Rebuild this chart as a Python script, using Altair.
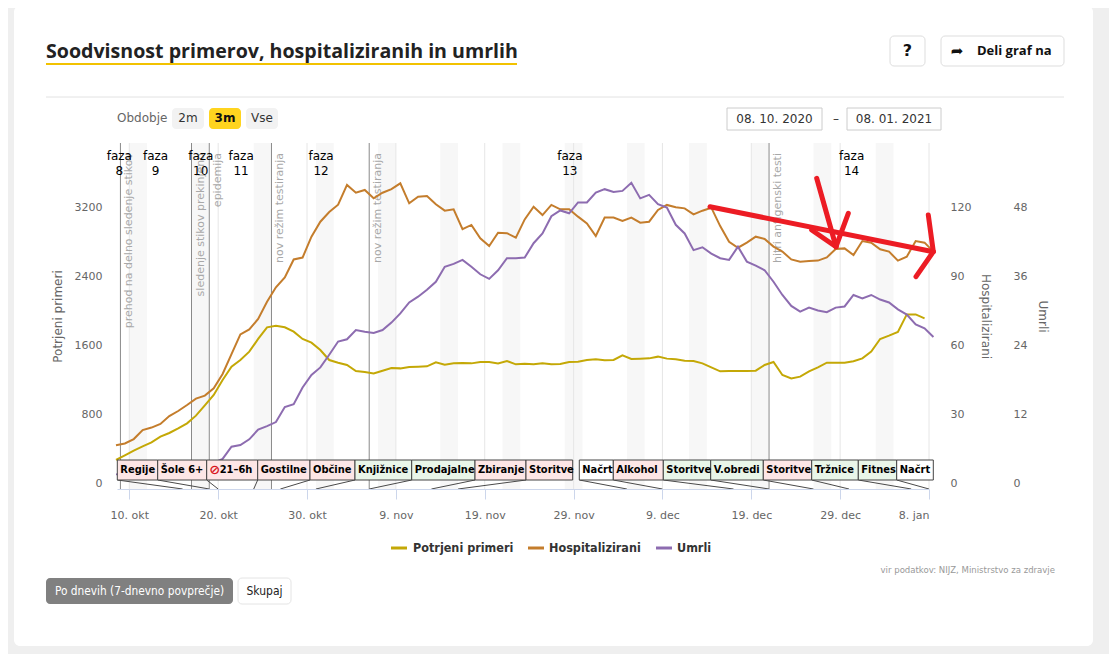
import altair as alt
import pandas as pd

# ---------------- data ----------------
first_day = "2020-10-08 12:00"

potrjeni_primeri = [267, 321, 375, 425, 471, 537, 580, 634, 692, 781,
                    901, 1020, 1194, 1349, 1426, 1523, 1670, 1805, 1824, 1805,
                    1755, 1670, 1627, 1542, 1426, 1395, 1368, 1299, 1287, 1271,
                    1302, 1333, 1329, 1345, 1349, 1353, 1399, 1372, 1387, 1391,
                    1387, 1403, 1403, 1387, 1415, 1376, 1383,
                    1376, 1387, 1376, 1380, 1403, 1407, 1426, 1434, 1422, 1426,
                    1480, 1438, 1442, 1445, 1465, 1442, 1434, 1418, 1415, 1387,
                    1341, 1295, 1299, 1299, 1299, 1302, 1368, 1403, 1252, 1213,
                    1233, 1295, 1341, 1395, 1395, 1395, 1411, 1445, 1523, 1670,
                    1708, 1751, 1955, 1955, 1909]

hospitalizirani = [16.4, 17.2, 19.1, 23.0, 24.1, 25.7, 29.1, 31.3, 33.9, 36.7,
                   38.0, 41.2, 47.4, 56.0, 64.6, 66.8, 71.3, 78.8, 85.1, 89.4,
                   97.2, 98.0, 107.1, 113.6, 117.8, 121.0, 129.6, 126.2, 127.4, 123.8,
                   126.2, 127.8, 130.3, 121.6, 124.5, 124.8, 121.2, 118.4, 119.0, 110.4,
                   112.2, 106.4, 103.0, 108.8, 108.6, 106.7, 114.6,
                   120.1, 116.5, 120.9, 119.0, 119.0, 115.8, 112.9, 107.4, 115.4, 115.4,
                   113.9, 115.4, 113.2, 113.6, 118.7, 120.9, 119.9, 119.4, 116.8, 118.4,
                   119.7, 111.7, 104.9, 102.3, 104.5, 107.1, 106.1, 102.8, 100.6, 97.2,
                   96.2, 96.5, 96.7, 98.1, 101.7, 102.0, 99.1, 105.2, 104.5, 101.6,
                   100.6, 96.7, 98.4, 105.2, 104.5, 100.6]

umrli = [1.5, 1.6, 1.8, 2.0, 2.1, 2.3, 2.4, 2.6, 2.8, 3.0, 3.2, 3.5,
         4.2, 6.3, 6.6, 7.6, 9.3, 9.9, 10.6, 13.2, 13.7, 16.6,
         18.8, 20.1, 22.3, 24.6, 25.0, 26.6, 26.3, 26.1, 26.6, 27.9,
         29.5, 31.4, 32.4, 33.6, 35.0, 37.6, 38.1, 38.8, 37.6, 36.3,
         35.5, 37.0, 39.1, 39.1, 39.2,
         41.7, 43.4, 46.4, 47.4, 46.9, 48.8, 48.8, 50.5, 51.1, 50.6,
         50.8, 52.2, 49.5, 50.1, 48.5, 47.9, 44.9, 43.4, 40.5, 41.0,
         39.9, 39.1, 38.8, 41.1, 38.5, 37.8, 37.0, 35.0, 32.7, 30.8,
         29.8, 30.5, 30.0, 29.7, 30.5, 30.7, 32.7, 32.1, 32.7, 31.9,
         31.4, 30.2, 29.3, 27.6, 26.9, 25.4]

tick_dates = ["2020-10-10", "2020-10-20", "2020-10-30", "2020-11-09", "2020-11-19",
              "2020-11-29", "2020-12-09", "2020-12-19", "2020-12-29", "2021-01-08"]
left_ticks = [0, 800, 1600, 2400, 3200]
hosp_ticks = [0, 30, 60, 90, 120]
umrli_ticks = [0, 12, 24, 36, 48]

weekend_saturdays = ["2020-10-10", "2020-10-17", "2020-10-24", "2020-10-31", "2020-11-07",
                     "2020-11-14", "2020-11-21", "2020-11-28", "2020-12-05", "2020-12-12",
                     "2020-12-19", "2020-12-26", "2021-01-02"]

event_dates = ["2020-10-09", "2020-10-17", "2020-10-19", "2020-10-26", "2020-11-06", "2020-12-21"]
event_labels = ["prehod na delno sledenje stikov", "sledenje stikov prekinjeno", "epidemija",
                "nov režim testiranja", "nov režim testiranja", "hitri antigenski testi"]

phase_numbers = ["8", "9", "10", "11", "12", "13", "14"]
phase_dates = ["2020-10-08 21:00", "2020-10-12 23:00", "2020-10-18 01:00", "2020-10-22 14:00",
               "2020-10-31 14:00", "2020-11-28 14:00", "2020-12-30 07:00"]

measure_icons = ["", "", "⊘", "", "", "", "", "", "", "", "", "", "", "", "", "", ""]
measure_labels = ["Regije", "Šole 6+", "21–6h", "Gostilne", "Občine", "Knjižnice", "Prodajalne",
                  "Zbiranje", "Storitve", "Načrt", "Alkohol", "Storitve", "V.obredi", "Storitve",
                  "Tržnice", "Fitnes", "Načrt"]
measure_kinds = ["r", "r", "r", "r", "r", "g", "g", "r", "r", "n", "r", "g", "g", "r", "g", "g", "n"]
measure_dates = ["2020-10-16", "2020-10-19", "2020-10-20", "2020-10-24", "2020-10-27", "2020-10-31",
                 "2020-11-06", "2020-11-13", "2020-11-16", "2020-12-05", "2020-12-09", "2020-12-17",
                 "2020-12-21", "2020-12-26", "2020-12-30", "2021-01-06", "2021-01-08"]

# ---------------- layout ----------------
PL, PT, W, H = 117, 143, 812, 346          # plot area in page pixels
T0 = pd.Timestamp("2020-10-08 14:45")
T1 = pd.Timestamp("2021-01-08 00:00")
LEFT_MAX = (483 - PT) * 800 / 69
LEFT_MIN = -((PT + H) - 483) * 800 / 69
left_domain = [LEFT_MIN, LEFT_MAX]
hosp_domain = [v * 30 / 800 for v in left_domain]
umrli_domain = [v * 12 / 800 for v in left_domain]

FONT = "DejaVu Sans"
COND = "DejaVu Sans Condensed"
YELLOW, ORANGE, PURPLE = "#c4a806", "#c47d2c", "#8d6cb0"


def iso(ts):
    return pd.Timestamp(ts).strftime("%Y-%m-%dT%H:%M:%S")


def px_time(px):
    return iso(T0 + (px - PL) / W * (T1 - T0))


def py_val(py):
    return (483 - py) * 800 / 69


def dt(ts):
    t = pd.Timestamp(ts)
    return alt.DateTime(year=t.year, month=t.month, date=t.day, hours=t.hour, minutes=t.minute)


xscale = alt.Scale(domain=[dt(T0), dt(T1)], nice=False)
dummy = pd.DataFrame({"k": [0]})


def X(field):
    return alt.X(field, type="temporal", scale=xscale, axis=None)


def vx(px):
    return alt.value(px - PL)


def vy(py):
    return alt.value(py - PT)


def ui_text(x, y, s, size=13, weight="normal", color="#333", align="left", font=FONT):
    return alt.Chart(dummy).mark_text(fontSize=size, fontWeight=weight, color=color, align=align,
                                      baseline="middle", font=font).encode(
        x=vx(x), y=vy(y), text=alt.value(s))


def ui_rect(x1, y1, x2, y2, fill, stroke="", radius=4):
    kw = dict(fill=fill, cornerRadius=radius)
    if stroke:
        kw.update(stroke=stroke, strokeWidth=1)
    return alt.Chart(dummy).mark_rect(**kw).encode(x=vx(x1), x2=vx(x2), y=vy(y1), y2=vy(y2))


def ui_line(x1, y1, x2, y2, color, width=1):
    return alt.Chart(dummy).mark_rule(color=color, strokeWidth=width).encode(
        x=vx(x1), x2=vx(x2), y=vy(y1), y2=vy(y2))


days = pd.date_range(first_day, periods=len(hospitalizirani), freq="D").strftime("%Y-%m-%dT%H:%M:%S")
df_pot = pd.DataFrame({"d": days[:len(potrjeni_primeri)], "v": potrjeni_primeri})
df_hosp = pd.DataFrame({"d": days, "v": hospitalizirani})
df_umrli = pd.DataFrame({"d": days, "v": umrli})

df_week = pd.DataFrame({"s": [iso(s) for s in weekend_saturdays],
                        "e": [iso(pd.Timestamp(s) + pd.Timedelta(days=2)) for s in weekend_saturdays]})
df_ticks = pd.DataFrame({"d": [iso(t) for t in tick_dates]})
df_events = pd.DataFrame({"d": [iso(t) for t in event_dates], "t": event_labels})
df_phase = pd.DataFrame({"d": [iso(t) for t in phase_dates], "t": ["faza\n" + n for n in phase_numbers]})

# packed label boxes (page pixel layout of the annotation strip)
box_left_px = [117.3, 157.7, 206.7, 257.7, 310, 355, 411.7, 475, 526,
               579.3, 613.3, 663.3, 710.7, 763.3, 811.7, 858.3, 896.7]
box_right_px = box_left_px[1:9] + [572.7] + box_left_px[10:] + [933.3]
fills = {"r": "#fde6e6", "g": "#e9f6e9", "n": "#ffffff"}
df_box = pd.DataFrame({
    "x1": [px_time(p) for p in box_left_px],
    "x2": [px_time(p) for p in box_right_px],
    "xi": [px_time(p + 2.5) for p in box_left_px],
    "xt": [px_time(p + (13 if ic else 3)) for p, ic in zip(box_left_px, measure_icons)],
    "ev": [iso(t) for t in measure_dates],
    "t": measure_labels,
    "icon": measure_icons,
    "fill": [fills[k] for k in measure_kinds],
})

# hand-drawn red arrows (page pixel strokes)
arrow_px = [(710, 206.7, 933.3, 251.7), (928.3, 215, 933.3, 251.7), (916, 276.7, 933.3, 251.7),
            (816.7, 178.3, 836, 246.7), (811.7, 230, 836, 246.7), (848.3, 213.3, 836, 246.7)]
df_arrow = pd.DataFrame({"x": [px_time(a[0]) for a in arrow_px], "x2": [px_time(a[2]) for a in arrow_px],
                         "y": [py_val(a[1]) for a in arrow_px], "y2": [py_val(a[3]) for a in arrow_px]})

# ---------------- layers ----------------
card = ui_rect(14, 6, 1093, 646, "white", radius=6)

weekends = alt.Chart(df_week).mark_rect(color="#f7f7f7").encode(
    x=X("s"), x2="e", y=alt.value(0), y2=alt.value(H))

grid = alt.Chart(df_ticks).mark_rule(color="#e6e6e6", strokeWidth=1).encode(
    x=X("d"), y=alt.value(0), y2=alt.value(H))

ev_lines = alt.Chart(df_events).mark_rule(color="#8a8a8a", strokeWidth=1).encode(
    x=X("d"), y=alt.value(0), y2=alt.value(H))

ev_text = alt.Chart(df_events).mark_text(angle=270, align="right", baseline="middle", dy=9,
                                          fontSize=11, font=FONT, color="#a8a8a8").encode(
    x=X("d"), y=alt.value(10), text="t:N")

phase = alt.Chart(df_phase).mark_text(lineBreak="\n", lineHeight=15, align="center", baseline="alphabetic",
                                      fontSize=12, font=FONT, color="#000").encode(
    x=X("d"), y=alt.value(17), text="t:N")

x_axis = alt.Axis(values=[dt(t) for t in tick_dates], title=None, grid=False, domainColor="#ccd6eb",
                  tickColor="#ccd6eb", tickSize=10, labelPadding=10, labelColor="#666", labelFont=FONT,
                  labelFontSize=11, zindex=1,
                  labelExpr="timeFormat(datum.value, '%-d') + '. ' + ['jan','feb','mar','apr','maj','jun',"
                            "'jul','avg','sep','okt','nov','dec'][month(datum.value)]")

line_pot = alt.Chart(df_pot).mark_line(color=YELLOW, strokeWidth=2).encode(
    x=alt.X("d:T", scale=xscale, axis=x_axis),
    y=alt.Y("v:Q", scale=alt.Scale(domain=left_domain, nice=False, zero=False),
            axis=alt.Axis(values=left_ticks, format="d", orient="left", title="Potrjeni primeri", grid=False,
                          domain=False, ticks=False, labelPadding=15, labelColor="#666", labelFont=FONT,
                          labelFontSize=11, titleColor="#666", titleFont=FONT, titleFontSize=12,
                          titleFontWeight="normal", titleAngle=270, titleX=-60, titleY=173,
                          titleAlign="center", titleBaseline="middle", zindex=1)))

line_hosp = alt.Chart(df_hosp).mark_line(color=ORANGE, strokeWidth=2).encode(
    x=X("d:T"),
    y=alt.Y("v:Q", scale=alt.Scale(domain=hosp_domain, nice=False, zero=False),
            axis=alt.Axis(values=hosp_ticks, format="d", orient="right", title="Hospitalizirani", grid=False,
                          domain=False, ticks=False, labelPadding=21, labelColor="#666", labelFont=FONT,
                          labelFontSize=11, titleColor="#666", titleFont=FONT, titleFontSize=12,
                          titleFontWeight="normal", titleAngle=90, titleX=56, titleY=173,
                          titleAlign="center", titleBaseline="middle", zindex=1)))

line_umrli = alt.Chart(df_umrli).mark_line(color=PURPLE, strokeWidth=2).encode(
    x=X("d:T"),
    y=alt.Y("v:Q", scale=alt.Scale(domain=umrli_domain, nice=False, zero=False),
            axis=alt.Axis(values=umrli_ticks, format="d", orient="right", offset=63, title="Umrli", grid=False,
                          domain=False, ticks=False, labelPadding=21, labelColor="#666", labelFont=FONT,
                          labelFontSize=11, titleColor="#666", titleFont=FONT, titleFontSize=12,
                          titleFontWeight="normal", titleAngle=90, titleX=50, titleY=173,
                          titleAlign="center", titleBaseline="middle", zindex=1)))

connectors = alt.Chart(df_box).mark_rule(color="#4a4a4a", strokeWidth=1).encode(
    x=X("x1"), x2="ev", y=alt.value(480 - PT), y2=alt.value(489 - PT))

boxes = alt.Chart(df_box).mark_rect(stroke="#444", strokeWidth=1).encode(
    x=X("x1"), x2="x2", y=alt.value(460 - PT), y2=alt.value(480 - PT),
    fill=alt.Fill("fill:N", scale=None))

box_text = alt.Chart(df_box).mark_text(align="left", baseline="middle", fontSize=11, fontWeight="bold",
                                       font=COND, color="#000").encode(
    x=X("xt"), y=alt.value(470 - PT), text="t:N")

icon = alt.Chart(df_box[df_box["icon"] != ""]).mark_text(
    align="left", baseline="middle", fontSize=13, fontWeight="bold", font=FONT, color="#d8141c").encode(
    x=X("xi"), y=alt.value(470 - PT), text="icon:N")

arrows = alt.Chart(df_arrow).mark_rule(color="#ec1c24", strokeWidth=5, strokeCap="round").encode(
    x=X("x"), x2="x2",
    y=alt.Y("y:Q", scale=alt.Scale(domain=left_domain, nice=False, zero=False), axis=None), y2="y2")

ui = [
    ui_text(46, 52, "Soodvisnost primerov, hospitaliziranih in umrlih", size=19.6, weight="bold",
            color="#222", font="Open Sans"),
    ui_line(46, 64, 517, 64, "#f2c200", 2),
    ui_rect(890, 36, 925, 66, "white", stroke="#dddddd"),
    ui_text(907.5, 51, "?", size=16, weight="bold", color="#111", align="center"),
    ui_rect(941, 36, 1064, 66, "white", stroke="#dddddd"),
    ui_text(957, 51, "➦", size=15, color="#111", align="center"),
    ui_text(977, 51, "Deli graf na", size=13, weight="bold", color="#111", font="Open Sans"),
    ui_line(46, 97, 1064, 97, "#e2e2e2", 1),
    ui_text(117, 118, "Obdobje", size=12, color="#666"),
    ui_rect(172, 108, 204, 129, "#f2f2f2"),
    ui_text(188, 118, "2m", size=12, color="#333", align="center"),
    ui_rect(209, 108, 241, 129, "#ffd41f"),
    ui_text(225, 118, "3m", size=12, weight="bold", color="#111", align="center"),
    ui_rect(246, 108, 278, 129, "#f2f2f2"),
    ui_text(262, 118, "Vse", size=12, color="#333", align="center"),
    ui_rect(727, 108, 822, 130, "white", stroke="#cccccc", radius=0),
    ui_text(774.5, 119, "08. 10. 2020", size=12, color="#333", align="center"),
    ui_text(836, 119, "–", size=12, color="#333", align="center"),
    ui_rect(847, 108, 941, 130, "white", stroke="#cccccc", radius=0),
    ui_text(894, 119, "08. 01. 2021", size=12, color="#333", align="center"),
    ui_line(391, 548, 407, 548, YELLOW, 3),
    ui_text(413, 548, "Potrjeni primeri", size=12.5, weight="bold", color="#333", font=COND),
    ui_line(528, 548, 544, 548, ORANGE, 3),
    ui_text(549, 548, "Hospitalizirani", size=12.5, weight="bold", color="#333", font=COND),
    ui_line(656, 548, 672, 548, PURPLE, 3),
    ui_text(677, 548, "Umrli", size=12.5, weight="bold", color="#333", font=COND),
    ui_text(1055, 570, "vir podatkov: NIJZ, Ministrstvo za zdravje", size=9.5, color="#999",
            align="right", font=COND),
    ui_rect(46, 578, 233, 604, "#808080"),
    ui_text(139.5, 591, "Po dnevih (7-dnevno povprečje)", size=11.8, color="white", align="center", font=COND),
    ui_rect(238, 578, 291, 604, "white", stroke="#e4e4e4"),
    ui_text(264.5, 591, "Skupaj", size=12, color="#222", align="center", font=COND),
]

chart = alt.layer(
    card, weekends, grid, ev_lines, ev_text, phase,
    line_pot, line_hosp, line_umrli,
    connectors, boxes, box_text, icon, arrows, *ui
).resolve_scale(y="independent").resolve_axis(x="independent", y="independent").properties(
    width=W, height=H,
    padding={"left": PL - 8, "top": PT - 8, "right": 1101 - (PL - 8) - W, "bottom": 646 - (PT - 8) - H},
    autosize=alt.AutoSizeParams(type="none"),
    background="#efefef",
).configure_view(strokeWidth=0)

chart.save("out.html", embed_options={"renderer": "svg", "actions": False})
